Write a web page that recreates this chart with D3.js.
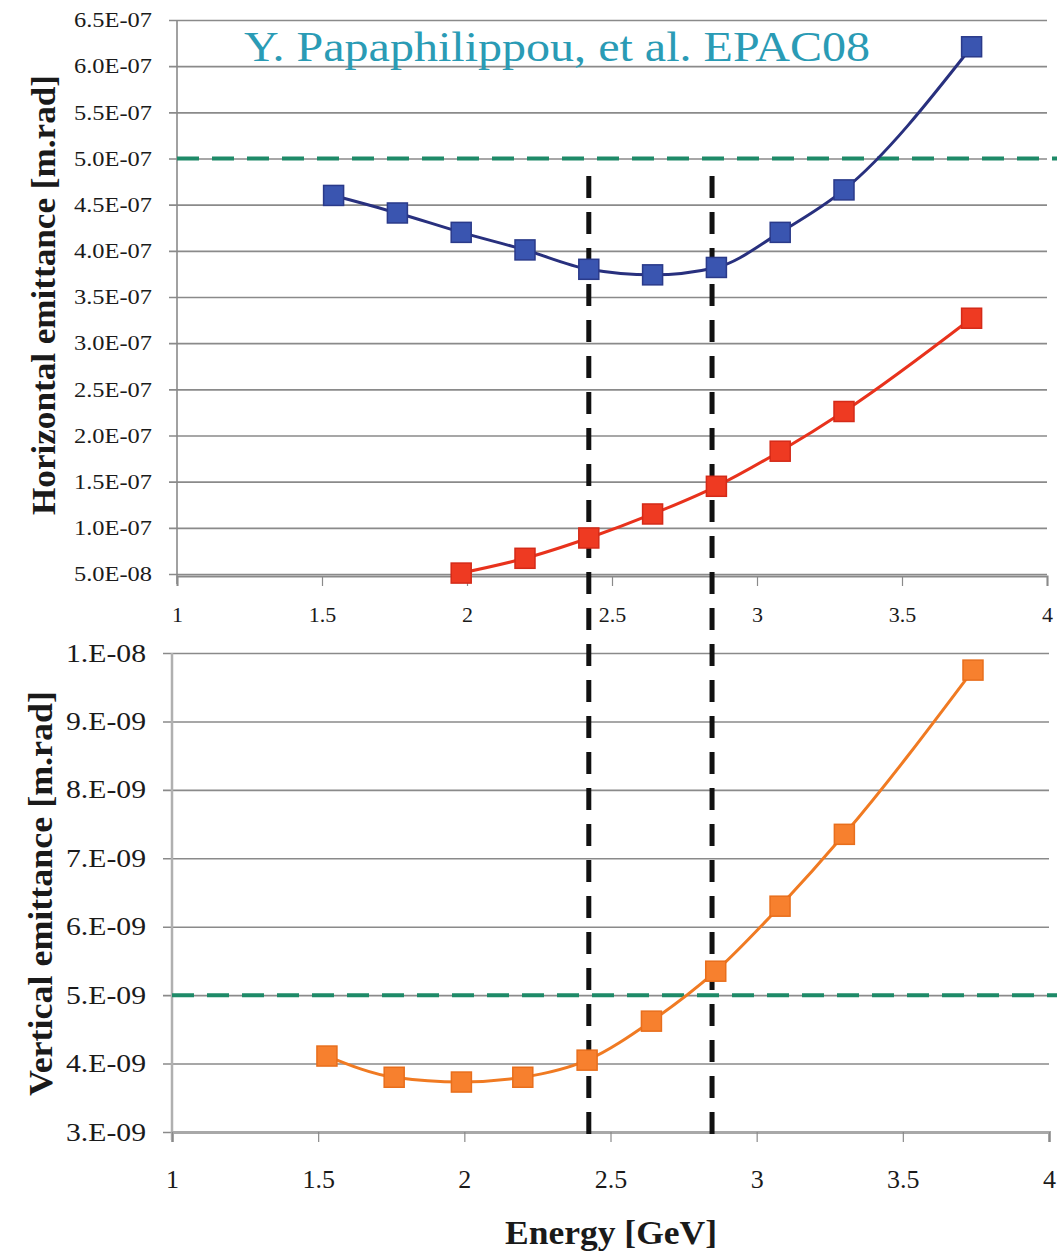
<!DOCTYPE html>
<html>
<head>
<meta charset="utf-8">
<script src="https://cdn.jsdelivr.net/npm/d3@7"></script>
<style>
  body { margin: 0; background: #fff; }
  svg text { font-family: "Times New Roman", "Liberation Serif", Tinos, "Noto Serif", "DejaVu Serif", serif; }
</style>
</head>
<body>
<svg id="chart" width="1057" height="1254"></svg>
<script>
// ---------- data ----------
let energyH = [1.54, 1.76, 1.98, 2.2, 2.42, 2.64, 2.86, 3.08, 3.3, 3.74];
let horizEmit = [4.60e-7, 4.41e-7, 4.20e-7, 4.01e-7, 3.80e-7, 3.74e-7, 3.82e-7, 4.20e-7, 4.66e-7, 6.21e-7];

let energyR = [1.98, 2.2, 2.42, 2.64, 2.86, 3.08, 3.3, 3.74];
let redEmit = [5.1e-8, 6.7e-8, 8.9e-8, 1.15e-7, 1.45e-7, 1.83e-7, 2.26e-7, 3.27e-7];

let energyV = [1.53, 1.76, 1.99, 2.2, 2.42, 2.64, 2.86, 3.08, 3.3, 3.74];
let vertEmit = [4.11e-9, 3.80e-9, 3.73e-9, 3.80e-9, 4.05e-9, 4.62e-9, 5.35e-9, 6.30e-9, 7.35e-9, 9.75e-9];

let xTicks = [1, 1.5, 2, 2.5, 3, 3.5, 4];
let xTickLabels = ['1', '1.5', '2', '2.5', '3', '3.5', '4'];
let topYTicks = [6.5e-7, 6.0e-7, 5.5e-7, 5.0e-7, 4.5e-7, 4.0e-7, 3.5e-7, 3.0e-7, 2.5e-7, 2.0e-7, 1.5e-7, 1.0e-7, 5.0e-8];
let topYLabels = ['6.5E-07', '6.0E-07', '5.5E-07', '5.0E-07', '4.5E-07', '4.0E-07', '3.5E-07', '3.0E-07', '2.5E-07', '2.0E-07', '1.5E-07', '1.0E-07', '5.0E-08'];
let botYTicks = [1e-8, 9e-9, 8e-9, 7e-9, 6e-9, 5e-9, 4e-9, 3e-9];
let botYLabels = ['1.E-08', '9.E-09', '8.E-09', '7.E-09', '6.E-09', '5.E-09', '4.E-09', '3.E-09'];

let hLimit = 5.0e-7;      // green dashed line, top
let vLimit = 5.0e-9;      // green dashed line, bottom
let energyMarks = [2.42, 2.845]; // black dashed verticals

let svg = d3.select('#chart');

// ---------- scales ----------
let xTop = d3.scaleLinear().domain([1, 4]).range([177, 1047]);
let yTop = d3.scaleLinear().domain([5.0e-8, 6.5e-7]).range([574, 20]);
let xBot = d3.scaleLinear().domain([1, 4]).range([172, 1049]);
let yBot = d3.scaleLinear().domain([3e-9, 1e-8]).range([1132, 653]);

let gridColor = '#8a8a8a';
let textColor = '#1a1a1a';

/*************************** TOP PANEL ***************************/
let topY = svg.append('g')
    .attr('transform', 'translate(1047,0)')
    .call(d3.axisLeft(yTop).tickValues(topYTicks)
        .tickFormat((d, i) => topYLabels[i])
        .tickSize(1047 - 169).tickPadding(17));
topY.select('.domain').remove();
topY.selectAll('line').attr('stroke', gridColor).attr('stroke-width', 1.6);
topY.selectAll('text').attr('font-size', 21).attr('fill', textColor)
    .attr('textLength', 78).attr('lengthAdjust', 'spacingAndGlyphs');

// vertical axis line
svg.append('line')
    .attr('x1', xTop(1)).attr('x2', xTop(1))
    .attr('y1', yTop(6.5e-7)).attr('y2', yTop(5.0e-8) + 10)
    .attr('stroke', gridColor).attr('stroke-width', 1.6);

let topX = svg.append('g')
    .attr('transform', 'translate(0,' + (yTop(5.0e-8) + 2) + ')')
    .call(d3.axisBottom(xTop).tickValues(xTicks)
        .tickFormat((d, i) => xTickLabels[i])
        .tickSize(10).tickPadding(20));
topX.select('.domain').attr('stroke', gridColor).attr('stroke-width', 2);
topX.selectAll('line').attr('stroke', gridColor).attr('stroke-width', 1.2);
topX.selectAll('text').attr('font-size', 22).attr('fill', textColor);

/*************************** BOTTOM PANEL ***************************/
let botY = svg.append('g')
    .attr('transform', 'translate(1049,0)')
    .call(d3.axisLeft(yBot).tickValues(botYTicks)
        .tickFormat((d, i) => botYLabels[i])
        .tickSize(1049 - 163).tickPadding(17));
botY.select('.domain').remove();
botY.selectAll('line').attr('stroke', gridColor).attr('stroke-width', 1.6);
botY.selectAll('text').attr('font-size', 25).attr('fill', textColor)
    .attr('textLength', 80).attr('lengthAdjust', 'spacingAndGlyphs');

svg.append('line')
    .attr('x1', xBot(1)).attr('x2', xBot(1))
    .attr('y1', yBot(1e-8)).attr('y2', yBot(3e-9) + 8)
    .attr('stroke', '#b0b0b0').attr('stroke-width', 2.5);

let botX = svg.append('g')
    .attr('transform', 'translate(0,' + yBot(3e-9) + ')')
    .call(d3.axisBottom(xBot).tickValues(xTicks)
        .tickFormat((d, i) => xTickLabels[i])
        .tickSize(10).tickPadding(28));
botX.select('.domain').attr('stroke', '#a8a8a8').attr('stroke-width', 3);
botX.selectAll('line').attr('stroke', gridColor).attr('stroke-width', 1.2);
botX.selectAll('text').attr('font-size', 26).attr('fill', textColor);

/*************************** REFERENCE LINES ***************************/
let green = '#1e8a68';
svg.append('line')
    .attr('x1', xTop(1)).attr('x2', 1057)
    .attr('y1', yTop(hLimit)).attr('y2', yTop(hLimit))
    .attr('stroke', green).attr('stroke-width', 4)
    .attr('stroke-dasharray', '22,13');
svg.append('line')
    .attr('x1', xBot(1)).attr('x2', 1057)
    .attr('y1', yBot(vLimit)).attr('y2', yBot(vLimit))
    .attr('stroke', green).attr('stroke-width', 4)
    .attr('stroke-dasharray', '22,13');

energyMarks.forEach((e) => {
    svg.append('line')
        .attr('x1', xTop(e)).attr('x2', xTop(e))
        .attr('y1', 176).attr('y2', 1136)
        .attr('stroke', '#111').attr('stroke-width', 5)
        .attr('stroke-dasharray', '22,14');
});

/*************************** SERIES ***************************/
function drawSeries(xs, ys, xScale, yScale, curve, lineColor, fill, edge) {
    let pts = xs.map((x, i) => [xScale(x), yScale(ys[i])]);
    let line = d3.line().curve(curve);
    svg.append('path')
        .attr('d', line(pts))
        .attr('fill', 'none')
        .attr('stroke', lineColor)
        .attr('stroke-width', 3);
    svg.append('g').selectAll('rect')
        .data(pts)
        .join('rect')
        .attr('x', (d) => d[0] - 10)
        .attr('y', (d) => d[1] - 10)
        .attr('width', 20)
        .attr('height', 20)
        .attr('fill', fill)
        .attr('stroke', edge)
        .attr('stroke-width', 1.5);
}

drawSeries(energyH, horizEmit, xTop, yTop, d3.curveMonotoneX, '#28307e', '#3a55b0', '#2a3a8a');
drawSeries(energyR, redEmit, xTop, yTop, d3.curveMonotoneX, '#e8321c', '#ee3a22', '#d42a18');
drawSeries(energyV, vertEmit, xBot, yBot, d3.curveMonotoneX, '#f07a22', '#f7802e', '#e86e1c');

/*************************** TEXT ***************************/
svg.append('text')
    .attr('x', 244).attr('y', 61)
    .attr('font-size', 42)
    .attr('fill', '#2a9bb5')
    .attr('textLength', 626).attr('lengthAdjust', 'spacingAndGlyphs')
    .text('Y. Papaphilippou, et al. EPAC08');

svg.append('text')
    .attr('transform', 'translate(55,515) rotate(-90)')
    .attr('font-size', 34)
    .attr('font-weight', 'bold')
    .attr('fill', textColor)
    .attr('textLength', 440).attr('lengthAdjust', 'spacingAndGlyphs')
    .text('Horizontal emittance [m.rad]');

svg.append('text')
    .attr('transform', 'translate(52,1096) rotate(-90)')
    .attr('font-size', 34)
    .attr('font-weight', 'bold')
    .attr('fill', textColor)
    .attr('textLength', 405).attr('lengthAdjust', 'spacingAndGlyphs')
    .text('Vertical emittance [m.rad]');

svg.append('text')
    .attr('x', 505).attr('y', 1244)
    .attr('font-size', 33)
    .attr('font-weight', 'bold')
    .attr('fill', textColor)
    .attr('textLength', 212).attr('lengthAdjust', 'spacingAndGlyphs')
    .text('Energy [GeV]');
</script>
</body>
</html>
